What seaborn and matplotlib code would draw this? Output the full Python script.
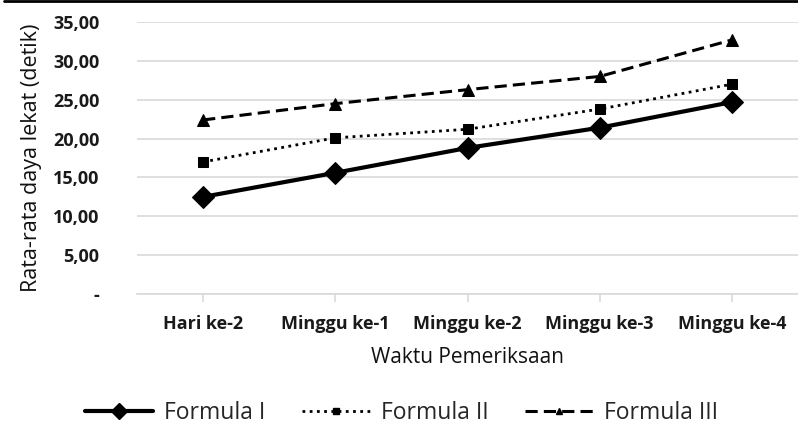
import matplotlib
matplotlib.use("Agg")
import matplotlib.pyplot as plt
import seaborn as sns
import pandas as pd
from matplotlib.lines import Line2D
from matplotlib.ticker import FuncFormatter

# Mean adhesion time (seconds) per examination time
waktu = ["Hari ke-2", "Minggu ke-1", "Minggu ke-2", "Minggu ke-3", "Minggu ke-4"]
formula_1 = [12.5, 15.6, 18.8, 21.4, 24.7]
formula_2 = [17.0, 20.1, 21.2, 23.8, 27.0]
formula_3 = [22.4, 24.5, 26.3, 28.0, 32.7]
series_names = ["Formula I", "Formula II", "Formula III"]
y_ticks = [0, 5, 10, 15, 20, 25, 30, 35]

df = pd.DataFrame({
    "Waktu": waktu * 3,
    "idx": list(range(len(waktu))) * 3,
    "Nilai": formula_1 + formula_2 + formula_3,
    "Formula": [n for n in series_names for _ in waktu],
})

sns.set_theme(style="white")
plt.rcParams["font.family"] = ["Open Sans", "DejaVu Sans"]

fig = plt.figure(figsize=(7.98, 4.24), dpi=100)
ax = fig.add_axes([0.1717, 0.3066, 0.8283, 0.6414])

markers = {"Formula I": "D", "Formula II": "s", "Formula III": "^"}
dashes = {"Formula I": "", "Formula II": (1, 1.6), "Formula III": (4, 2)}
widths = {"Formula I": 3.0, "Formula II": 2.0, "Formula III": 2.2}
msizes = {"Formula I": 11, "Formula II": 7, "Formula III": 8}

for name in series_names:
    sub = df[df["Formula"] == name]
    sns.lineplot(data=sub, x="idx", y="Nilai", ax=ax, color="black",
                 marker=markers[name], markersize=msizes[name],
                 linewidth=widths[name], dashes=False, legend=False,
                 markeredgecolor="black", markerfacecolor="black")
    line = ax.lines[-1]
    if dashes[name]:
        line.set_dashes(dashes[name])
    line.set_dash_capstyle("butt")

ax.set_xlim(-0.5, 4.5)
ax.set_ylim(0, 35)
ax.set_yticks(y_ticks)
ax.yaxis.set_major_formatter(FuncFormatter(
    lambda v, p: "-" if v == 0 else f"{v:.2f}".replace(".", ",")))
ax.set_xticks(range(len(waktu)))
ax.set_xticklabels(waktu)

ax.grid(axis="y", color="#d9d9d9", linewidth=1.2)
ax.set_axisbelow(True)
for s in ["top", "right", "left"]:
    ax.spines[s].set_visible(False)
ax.spines["bottom"].set_color("#d9d9d9")
ax.spines["bottom"].set_linewidth(1.2)

ax.tick_params(axis="x", which="major", length=6, width=1.2, color="#d9d9d9",
               direction="out", pad=9, bottom=True)
ax.tick_params(axis="y", length=0, pad=27)
for lbl in ax.get_xticklabels():
    lbl.set_fontsize(13)
    lbl.set_fontweight("bold")
    lbl.set_color("#1a1a1a")
for lbl in ax.get_yticklabels():
    lbl.set_fontsize(13)
    lbl.set_fontweight("bold")
    lbl.set_color("#1a1a1a")
    lbl.set_horizontalalignment("right")

ax.set_xlabel("Waktu Pemeriksaan", fontsize=15, color="#111111", labelpad=10)
ax.set_ylabel("Rata-rata daya lekat (detik)", fontsize=15.5,
              color="#111111", labelpad=8)

handles = []
for name in series_names:
    h = Line2D([], [], color="black", linewidth=widths[name],
               marker=markers[name], markersize=msizes[name] - 3,
               markerfacecolor="black", markeredgecolor="black")
    if dashes[name]:
        h.set_dashes(dashes[name])
    handles.append(h)
fig.legend(handles, series_names, loc="center", bbox_to_anchor=(0.503, 0.026),
           ncol=3, frameon=False, handlelength=3.0,
           columnspacing=1.6, handletextpad=0.45,
           prop={"size": 16.5})

# thin rule across the top edge
fig.add_artist(Line2D([0.005, 1.0], [0.997, 0.997], color="black",
                      linewidth=2, transform=fig.transFigure))

fig.savefig("out.png", dpi=100)
